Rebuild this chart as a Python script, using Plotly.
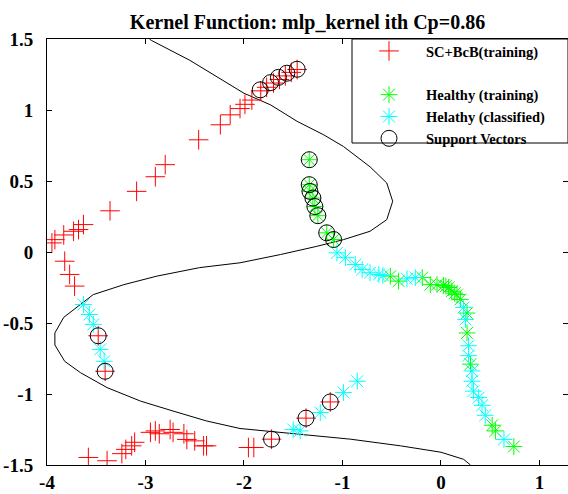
import plotly.graph_objects as go

# ---------------- data ----------------
sc_x = [-1.46, -1.52, -1.58, -1.64, -1.70, -1.77, -1.83,
        -1.92, -1.99, -2.04, -2.14, -2.24, -2.46, -2.80, -2.90, -3.09, -3.36,
        -3.63, -3.68, -3.73, -3.83, -3.92, -3.95, -3.82, -3.77, -3.72,
        -3.48, -3.41,
        -3.58, -3.39, -3.24, -3.20, -3.14, -3.11, -2.95, -2.90, -2.86, -2.75,
        -2.72, -2.61, -2.58, -2.50, -2.41, -2.38, -1.955, -1.90,
        -1.72, -1.37, -1.124]
sc_y = [1.285, 1.265, 1.24, 1.215, 1.19, 1.16, 1.135,
        1.07, 1.04, 1.01, 0.966, 0.896, 0.79, 0.615, 0.53, 0.427, 0.29,
        0.193, 0.158, 0.146, 0.12, 0.087, 0.064, -0.065, -0.158, -0.24,
        -0.59, -0.84,
        -1.447, -1.47, -1.42, -1.39, -1.365, -1.34, -1.27, -1.26, -1.28, -1.25,
        -1.27, -1.28, -1.32, -1.33, -1.365, -1.365, -1.377, -1.377,
        -1.318, -1.17, -1.056]

healthy_x = [-1.337, -1.337, -1.33, -1.30, -1.28, -1.25, -1.16, -1.09,
             -0.514, -0.43, -0.19, -0.108, -0.04, 0.027, 0.05, 0.078, 0.11,
             0.14, 0.163, 0.197, 0.265, 0.265, 0.30, 0.52, 0.553, 0.74]
healthy_y = [0.65, 0.474, 0.427, 0.38, 0.32, 0.256, 0.135, 0.088,
             -0.17, -0.205, -0.18, -0.23, -0.23, -0.235, -0.24, -0.25, -0.276,
             -0.29, -0.30, -0.334, -0.43, -0.57, -0.79, -1.22, -1.26, -1.37]

classified_x = [-3.63, -3.57, -3.53, -3.46, -3.42,
                -1.50, -1.43, -1.225, -0.99, -0.85,
                -1.056, -0.97, -0.87, -0.80, -0.72, -0.63, -0.59, -0.345, -0.26,
                0.23, 0.25, 0.28, 0.28, 0.315, 0.315, 0.33, 0.383, 0.417, 0.45, 0.64]
classified_y = [-0.37, -0.44, -0.51, -0.686, -0.77,
                -1.25, -1.26, -1.13, -0.99, -0.91,
                -0.006, -0.04, -0.088, -0.123, -0.146, -0.158, -0.165, -0.189, -0.18,
                -0.39, -0.475, -0.66, -0.73, -0.838, -0.91, -0.98, -1.025, -1.08, -1.15, -1.32]

sv_x = [-1.835, -1.73, -1.65, -1.565, -1.46,
        -1.337, -1.337, -1.33, -1.30, -1.28, -1.25, -1.16, -1.09,
        -3.48, -3.41, -1.72, -1.37, -1.124]
sv_y = [1.142, 1.193, 1.23, 1.259, 1.287,
        0.65, 0.474, 0.427, 0.38, 0.32, 0.256, 0.135, 0.088,
        -0.59, -0.84, -1.318, -1.17, -1.056]

boundary_x = [-2.96, -2.94, -2.55, -2.28, -2.00, -1.73, -1.46, -1.19, -0.99,
              -0.72, -0.55, -0.49, -0.55, -0.72, -0.99, -1.26, -1.63, -2.04,
              -2.45, -2.885, -3.22, -3.53, -3.66, -3.83, -3.92, -3.92, -3.82,
              -3.66, -3.39, -3.05, -2.72, -2.38, -2.04, -1.77, -1.50, -1.43,
              -0.92, -0.41, 0.0, 0.23, 0.30]
boundary_y = [1.5, 1.49, 1.35, 1.235, 1.118, 1.036, 0.92, 0.825, 0.743,
              0.60, 0.486, 0.357, 0.228, 0.146, 0.087, 0.04, -0.018, -0.076,
              -0.11, -0.17, -0.23, -0.30, -0.37, -0.46, -0.57, -0.655, -0.77,
              -0.85, -0.955, -1.05, -1.12, -1.19, -1.243, -1.26, -1.28, -1.283,
              -1.318, -1.365, -1.41, -1.46, -1.5]

x_ticks = [-4, -3, -2, -1, 0, 1]
x_tick_labels = ["-4", "-3", "-2", "-1", "0", "1"]
y_ticks = [-1.5, -1, -0.5, 0, 0.5, 1, 1.5]
y_tick_labels = ["-1.5", "-1", "-0.5", "0", "0.5", "1", "1.5"]

title_text = "Kernel Function: mlp_kernel ith Cp=0.86"

# ---------------- layout geometry (pixels) ----------------
W, H = 568, 494
ML, MR, MT, MB = 47, 0, 39, 29
PW, PH = W - ML - MR, H - MT - MB

FONT = "Liberation Serif"
fig = go.Figure()

fig.add_trace(go.Scatter(x=boundary_x, y=boundary_y, mode="lines",
                         line=dict(color="black", width=1),
                         showlegend=False, hoverinfo="skip"))
fig.add_trace(go.Scatter(x=sc_x, y=sc_y, mode="markers", name="SC+BcB(training)",
                         marker=dict(symbol="cross-thin-open", size=14, color="#FF0000",
                                     line=dict(width=1, color="#FF0000"))))
fig.add_trace(go.Scatter(x=[None], y=[None], mode="markers", name=" ",
                         marker=dict(symbol="circle", size=1, color="rgba(0,0,0,0)")))
fig.add_trace(go.Scatter(x=healthy_x, y=healthy_y, mode="markers", name="Healthy (training)",
                         marker=dict(symbol="asterisk-open", size=14, color="#00FF00",
                                     line=dict(width=1, color="#00FF00"))))
fig.add_trace(go.Scatter(x=classified_x, y=classified_y, mode="markers",
                         name="Helathy (classified)",
                         marker=dict(symbol="asterisk-open", size=14, color="#00FFFF",
                                     line=dict(width=1, color="#00FFFF"))))
fig.add_trace(go.Scatter(x=sv_x, y=sv_y, mode="markers", name="Support Vectors",
                         marker=dict(symbol="circle-open", size=16, color="black",
                                     line=dict(width=1, color="black"))))

axis_common = dict(showline=True, linecolor="black", linewidth=1, mirror="ticks",
                   ticks="inside", ticklen=5, tickcolor="black", showgrid=False,
                   zeroline=False,
                   tickfont=dict(family=FONT, size=19, color="black", weight="bold"))

fig.update_xaxes(range=[-4, 1.29], tickvals=x_ticks, ticktext=x_tick_labels, **axis_common)
fig.update_yaxes(range=[-1.5, 1.5], tickvals=y_ticks, ticktext=y_tick_labels,
                 ticklabelstandoff=9, **axis_common)

# legend frame (box drawn as a shape, items from the native legend)
box_left_px, box_bottom_px = 352, 143
fig.add_shape(type="rect", xref="paper", yref="paper", layer="above",
              x0=(box_left_px - ML) / PW, x1=1.0,
              y0=(H - MB - box_bottom_px) / PH, y1=1.0,
              line=dict(color="black", width=1), fillcolor="white")

fig.update_layout(
    width=W, height=H,
    margin=dict(l=ML, r=MR, t=MT, b=MB),
    paper_bgcolor="white", plot_bgcolor="white",
    title=dict(text=title_text, x=0.5, xref="paper", y=1 - 22 / H, yref="container",
               yanchor="middle", xanchor="center",
               font=dict(family=FONT, size=20, color="black", weight="bold")),
    legend=dict(x=(352 - ML) / PW, xanchor="left", y=1 + 4 / PH, yanchor="top",
                bgcolor="rgba(0,0,0,0)", borderwidth=0, itemwidth=64,
                font=dict(family=FONT, size=14.5, color="black", weight="bold")),
    showlegend=True,
)

fig.write_html("out.html")
